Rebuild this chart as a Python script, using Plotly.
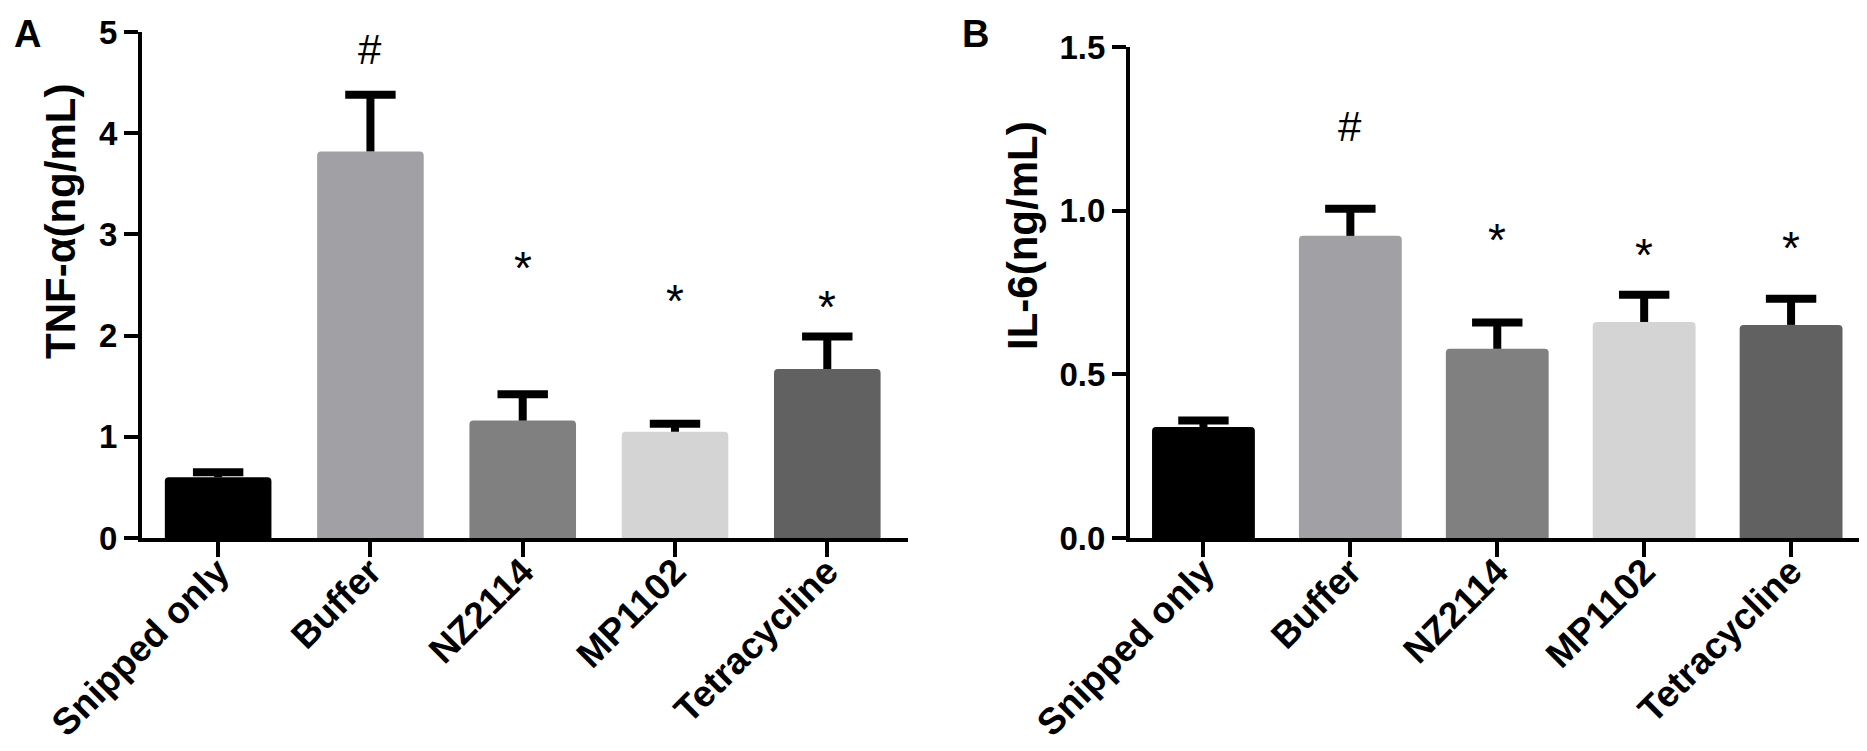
import plotly.graph_objects as go

# ---- data ----
categories = ["Snipped only", "Buffer", "NZ2114", "MP1102", "Tetracycline"]
bar_colors = ["#000000", "#a1a1a5", "#808080", "#d4d4d4", "#616161"]

tnf_mean = [0.60, 3.82, 1.16, 1.05, 1.67]
tnf_sem = [0.05, 0.56, 0.26, 0.08, 0.32]
tnf_marks = ["", "#", "*", "*", "*"]
tnf_mark_y = [None, 4.76, 2.62, 2.29, 2.23]

il6_mean = [0.339, 0.923, 0.578, 0.660, 0.651]
il6_sem = [0.020, 0.083, 0.080, 0.083, 0.080]
il6_marks = ["", "#", "*", "*", "*"]
il6_mark_y = [None, 1.237, 0.895, 0.849, 0.871]

tnf_ticks = [0, 1, 2, 3, 4, 5]
il6_ticks = [0.0, 0.5, 1.0, 1.5]

W, H = 1867, 751
FONT = "Arial, Liberation Sans, sans-serif"

fig = go.Figure()


def add_panel(means, sems, xa, ya):
    fig.add_trace(go.Bar(
        x=categories, y=means, xaxis=xa, yaxis=ya,
        marker=dict(color=bar_colors, line=dict(width=0), cornerradius=4),
        error_y=dict(type="data", array=sems, arrayminus=[0] * len(sems),
                     symmetric=False, width=0, thickness=8, color="black"),
        showlegend=False, hoverinfo="skip",
    ))
    fig.add_trace(go.Scatter(
        x=categories, y=[m + s for m, s in zip(means, sems)], xaxis=xa, yaxis=ya,
        mode="markers",
        marker=dict(symbol="line-ew", size=36, color="black",
                    line=dict(width=8, color="black")),
        showlegend=False, hoverinfo="skip",
    ))


add_panel(tnf_mean, tnf_sem, "x", "y")
add_panel(il6_mean, il6_sem, "x2", "y2")

annotations = []
for marks, ys, xr, yr in [(tnf_marks, tnf_mark_y, "x", "y"), (il6_marks, il6_mark_y, "x2", "y2")]:
    for c, m, yv in zip(categories, marks, ys):
        if not m:
            continue
        if m == "*":
            annotations.append(dict(x=c, y=yv, xref=xr, yref=yr, text=m, showarrow=False,
                                    yanchor="middle", yshift=5,
                                    font=dict(family=FONT, size=46, color="black")))
        else:
            annotations.append(dict(x=c, y=yv, xref=xr, yref=yr, text=m, showarrow=False,
                                    yanchor="middle", yshift=7,
                                    font=dict(family=FONT, size=42, color="black")))

# axis titles and panel letters
annotations += [
    dict(x=53 / W, y=1 - 214 / H, xref="paper", yref="paper", text="TNF-α(ng/mL)",
         textangle=-90, showarrow=False, xanchor="center", yanchor="middle",
         font=dict(family=FONT, size=42, color="black", weight="bold")),
    dict(x=1015 / W, y=1 - 228 / H, xref="paper", yref="paper", text="IL-6(ng/mL)",
         textangle=-90, showarrow=False, xanchor="center", yanchor="middle",
         font=dict(family=FONT, size=42, color="black", weight="bold")),
    dict(x=4 / W, y=1 - 26 / H, xref="paper", yref="paper", text="A",
         showarrow=False, xanchor="left", yanchor="middle",
         font=dict(family=FONT, size=38, color="black", weight="bold")),
    dict(x=952 / W, y=1 - 26 / H, xref="paper", yref="paper", text="B",
         showarrow=False, xanchor="left", yanchor="middle",
         font=dict(family=FONT, size=38, color="black", weight="bold")),
]

axis_common = dict(showline=True, linewidth=4, linecolor="black", ticks="outside",
                   tickwidth=4, tickcolor="black", showgrid=False, zeroline=False,
                   mirror=False, automargin=False)

xfont = dict(family=FONT, size=37, color="black", weight="bold")
yfont = dict(family=FONT, size=33, color="black", weight="bold")

fig.update_layout(
    width=W, height=H,
    margin=dict(l=0, r=0, t=0, b=0, autoexpand=False),
    paper_bgcolor="white", plot_bgcolor="white",
    bargap=0.3,
    annotations=annotations,
    xaxis=dict(domain=[134 / W, 900 / W], range=[-0.5, 4.53], anchor="y",
               tickangle=-45, ticklen=15, ticklabelstandoff=-22, tickfont=xfont,
               **axis_common),
    yaxis=dict(domain=[1 - 530 / H, 1 - 24 / H], range=[0, 5], anchor="x",
               tickvals=tnf_ticks, ticklen=14, tickfont=yfont, **axis_common),
    xaxis2=dict(domain=[1122 / W, 1858 / W], range=[-0.5, 4.51], anchor="y2",
                tickangle=-45, ticklen=15, ticklabelstandoff=-22, tickfont=xfont,
                **axis_common),
    yaxis2=dict(domain=[1 - 530 / H, 1 - 39 / H], range=[0, 1.5], anchor="x2",
                tickvals=il6_ticks, tickformat=".1f", ticklen=14, tickfont=yfont,
                **axis_common),
)

fig.write_html("out.html")
